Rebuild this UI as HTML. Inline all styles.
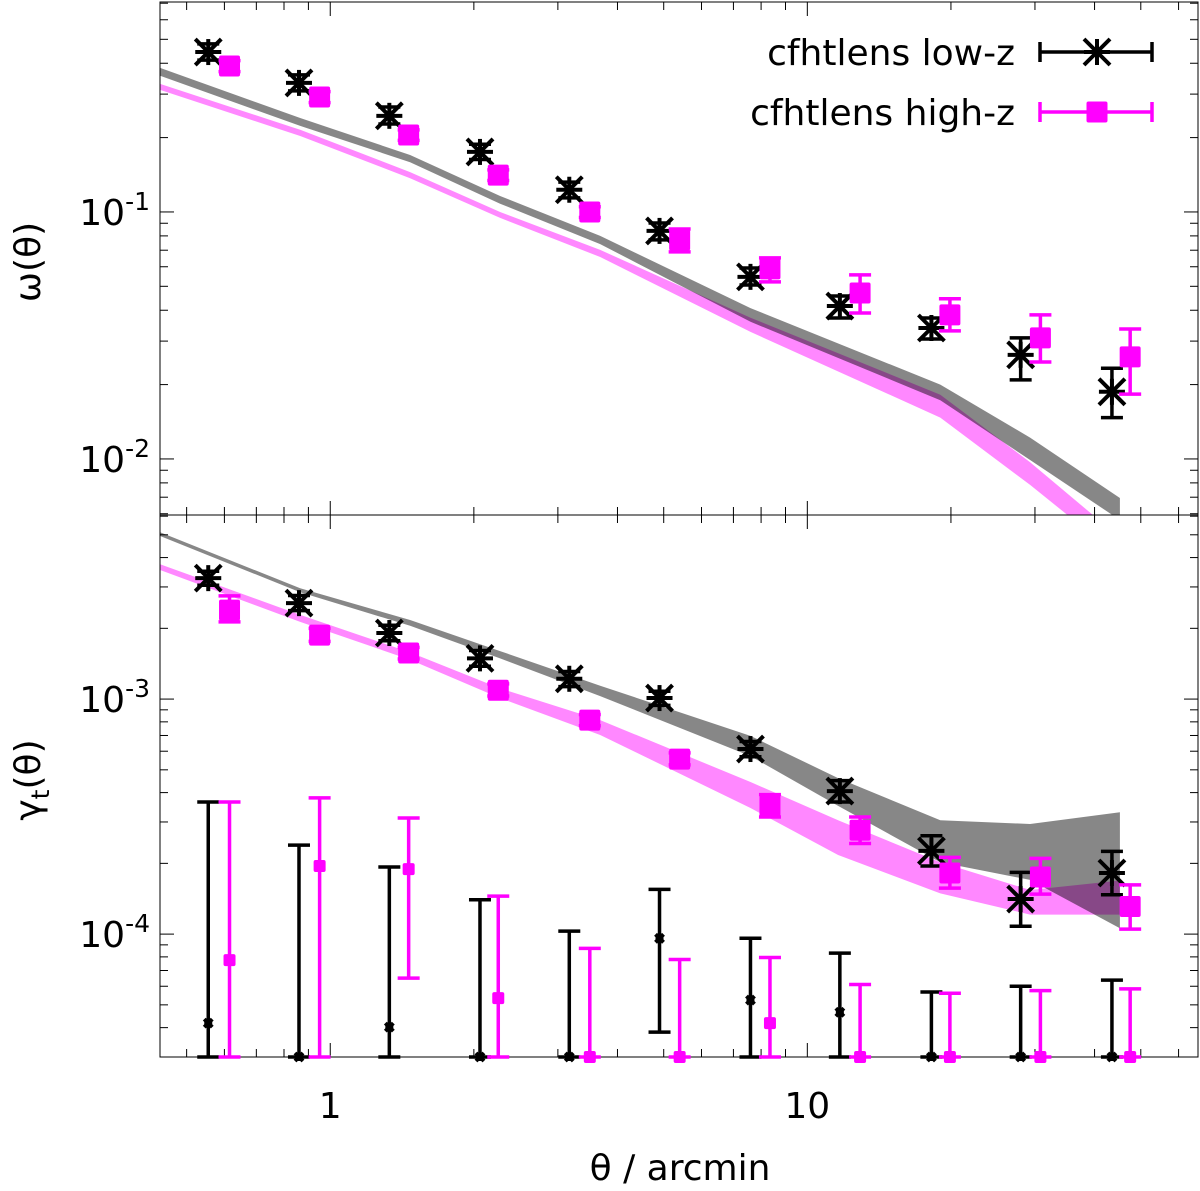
<!DOCTYPE html>
<html><head><meta charset="utf-8"><style>
html,body{margin:0;padding:0;background:#fff}
svg{display:block}
text{font-family:"DejaVu Sans","Liberation Sans",sans-serif;fill:#000}
</style></head><body>
<svg id="chart" width="1200" height="1191" viewBox="0 0 1200 1191" xmlns="http://www.w3.org/2000/svg">
<defs>
<clipPath id="clipTop"><rect x="160" y="2" width="1038" height="513"/></clipPath>
<clipPath id="clipBot"><rect x="160" y="515" width="1038" height="542"/></clipPath>
</defs>
<g id="layer"></g>
</svg>
<script>
// ---- data ----
const thetaBlack = [0.555,0.86,1.33,2.06,3.17,4.9,7.6,11.7,18.2,28.0,43.5];
const thetaMag   = [0.615,0.95,1.46,2.25,3.5,5.4,8.35,12.9,19.9,30.8,47.5];
// top panel omega
const wBlack   = [0.444,0.333,0.245,0.175,0.123,0.0838,0.0546,0.0416,0.0339,0.0264,0.0187];
const wBlackLo = [0.412,0.309,0.227,0.163,0.114,0.0771,0.0506,0.0372,0.0306,0.0209,0.0147];
const wBlackHi = [0.479,0.359,0.266,0.188,0.132,0.0902,0.0593,0.0457,0.0372,0.0309,0.0233];
const wMag   = [0.390,0.292,0.205,0.141,0.100,0.077,0.0588,0.047,0.0383,0.0309,0.0259];
const wMagLo = [0.370,0.277,0.195,0.134,0.095,0.0689,0.0521,0.039,0.033,0.0247,0.0183];
const wMagHi = [0.410,0.307,0.215,0.148,0.105,0.0853,0.0652,0.0556,0.0445,0.0383,0.0336];
// theory bands
const thTheta = [0.44,0.865,1.47,2.27,3.68,7.6,19.0,29.3,45.2];
const wThBlackHi = [0.383,0.240,0.170,0.116,0.080,0.0408,0.020,0.0122,0.00695];
const wThBlackLo = [0.356,0.223,0.159,0.108,0.0741,0.0359,0.0173,0.0099,0.00566];
const wThMagHi = [0.330,0.215,0.145,0.100,0.0702,0.0373,0.0182,0.0097,0.0048];
const wThMagLo = [0.312,0.203,0.137,0.0946,0.0657,0.0327,0.0147,0.00785,0.0040];
const thThetaB = [0.44,0.865,1.47,2.27,3.68,7.6,11.6,19.0,29.3,45.2];
const gThBlackHi = [0.00513,0.00296,0.00217,0.0016,0.00114,0.000697,0.000461,0.000305,0.000294,0.00033];
const gThBlackLo = [0.00494,0.00285,0.00205,0.00149,0.00103,0.000572,0.000351,0.000202,0.00017,0.000106];
const gThMagHi = [0.00375,0.00228,0.00158,0.00111,0.000814,0.000444,0.000305,0.000202,0.000154,0.000169];
const gThMagLo = [0.00354,0.00213,0.00147,0.00101,0.000703,0.000344,0.000217,0.000149,0.000121,0.000121];
// bottom panel gamma_t
const gBlack   = [0.00327,0.00256,0.00191,0.00149,0.00122,0.00101,0.000613,0.000406,0.000226,0.000141,0.000182];
const gBlackLo = [0.00305,0.00238,0.00177,0.00138,0.00113,0.00094,0.000568,0.000365,0.000195,0.000108,0.000147];
const gBlackHi = [0.00350,0.00276,0.00206,0.00161,0.00131,0.00108,0.000660,0.000450,0.000262,0.000183,0.000225];
const gMag   = [0.00239,0.00187,0.00157,0.00109,0.000814,0.000555,0.000351,0.000277,0.000182,0.000175,0.000131];
const gMagLo = [0.00213,0.00176,0.00148,0.00103,0.000770,0.000525,0.000315,0.000243,0.000157,0.000148,0.000105];
const gMagHi = [0.00275,0.00200,0.00166,0.00116,0.000860,0.000590,0.000392,0.000315,0.000212,0.000210,0.000162];
// cross (noise) signal
const xBlack   = [4.18e-5,3.0e-5,4.02e-5,3.0e-5,3.0e-5,9.6e-5,5.24e-5,4.65e-5,3.0e-5,3.0e-5,3.0e-5];
const xBlackLo = [3.0e-5,3.0e-5,3.0e-5,3.0e-5,3.0e-5,3.83e-5,3.0e-5,3.0e-5,3.0e-5,3.0e-5,3.0e-5];
const xBlackHi = [3.65e-4,2.39e-4,1.93e-4,1.40e-4,1.03e-4,1.55e-4,9.6e-5,8.3e-5,5.67e-5,6.0e-5,6.37e-5];
const xMag   = [7.75e-5,1.95e-4,1.89e-4,5.34e-5,3.0e-5,3.0e-5,4.18e-5,3.0e-5,3.0e-5,3.0e-5,3.0e-5];
const xMagLo = [3.0e-5,3.0e-5,6.5e-5,3.0e-5,3.0e-5,3.0e-5,3.0e-5,3.0e-5,3.0e-5,3.0e-5,3.0e-5];
const xMagHi = [3.65e-4,3.8e-4,3.12e-4,1.45e-4,8.7e-5,7.8e-5,7.95e-5,6.1e-5,5.6e-5,5.75e-5,5.85e-5];
const xTickLabels = ["1","10"];

// ---- axes ----
const L=160,R=1198,T1=2,B1=515,T2=515,B2=1057;
const xMin=0.4397,xMax=65.9;
function X(v){return L+(Math.log10(v)-Math.log10(xMin))/(Math.log10(xMax)-Math.log10(xMin))*(R-L);}
const y1Min=0.00593,y1Max=0.708;
function Y1(v){return B1-(Math.log10(v)-Math.log10(y1Min))/(Math.log10(y1Max)-Math.log10(y1Min))*(B1-T1);}
const y2Min=3.0e-5,y2Max=0.00607;
function Y2(v){return B2-(Math.log10(v)-Math.log10(y2Min))/(Math.log10(y2Max)-Math.log10(y2Min))*(B2-T2);}

const NS='http://www.w3.org/2000/svg';
const layer=document.getElementById('layer');
function mk(tag,attrs,parent){const e=document.createElementNS(NS,tag);for(const k in attrs)e.setAttribute(k,attrs[k]);(parent||layer).appendChild(e);return e;}
const FS=36,FSS=25;

// bands
function band(th,hi,lo,Y,fill,clip,name){
  let d='';
  th.forEach((t,i)=>{d+=(i?'L':'M')+X(t).toFixed(1)+','+Y(hi[i]).toFixed(1);});
  for(let i=th.length-1;i>=0;i--)d+='L'+X(th[i]).toFixed(1)+','+Y(lo[i]).toFixed(1);
  const p=mk('path',{d:d+'Z',fill:fill,'clip-path':'url(#'+clip+')'});
  
  
}
band(thTheta,wThMagHi,wThMagLo,Y1,'#ff88ff','clipTop','omega-theory-band-high-z');
band(thTheta,wThBlackHi,wThBlackLo,Y1,'rgba(0,0,0,0.47)','clipTop','omega-theory-band-low-z');
band(thThetaB,gThMagHi,gThMagLo,Y2,'#ff88ff','clipBot','gamma-theory-band-high-z');
band(thThetaB,gThBlackHi,gThBlackLo,Y2,'rgba(0,0,0,0.47)','clipBot','gamma-theory-band-low-z');

// frames & ticks
function frame(T,B,name){
  const r=mk('rect',{x:L,y:T,width:R-L,height:B-T,fill:'none',stroke:'#000','stroke-width':1});
  
  
}
frame(T1,B1,'top-panel-frame');frame(T2,B2,'bottom-panel-frame');
const g=mk('g',{stroke:'#000','stroke-width':1});


for(let dec=-1;dec<=1;dec++){for(let m=1;m<=9;m++){const v=m*Math.pow(10,dec);if(v<xMin||v>xMax)continue;const x=X(v),len=(m===1)?14:8;
  [[T1,1],[B1,-1],[T2,1],[B2,-1]].forEach(([y,s])=>mk('line',{x1:x,x2:x,y1:y,y2:y+s*len},g));}}
function yt(Y,lo,hi){for(let dec=-6;dec<=0;dec++){for(let m=1;m<=9;m++){const v=m*Math.pow(10,dec);if(v<lo||v>hi)continue;const y=Y(v),len=(m===1)?14:8;
  mk('line',{x1:L,x2:L+len,y1:y,y2:y},g);mk('line',{x1:R,x2:R-len,y1:y,y2:y},g);}}}
yt(Y1,y1Min,y1Max);yt(Y2,y2Min,y2Max);

// tick labels
function lbl(x,y,txt,sup,name,anchor){
  const t=mk('text',{x:x,y:y,'font-size':FS,'text-anchor':anchor||'middle'});
  
  
  t.textContent=txt;
  if(sup){const s=mk('tspan',{dy:-15,'font-size':FSS},t);s.textContent=sup;}
  return t;
}
lbl(X(1),1118,xTickLabels[0],null,'x-tick-1');
lbl(X(10),1118,xTickLabels[1],null,'x-tick-10');
lbl(150,Y1(0.1)+13,'10','-1','y-tick-top-1e-1','end');
lbl(150,Y1(0.01)+13,'10','-2','y-tick-top-1e-2','end');
lbl(150,Y2(0.001)+13,'10','-3','y-tick-bottom-1e-3','end');
lbl(150,Y2(0.0001)+13,'10','-4','y-tick-bottom-1e-4','end');
lbl(680,1180,'θ / arcmin',null,'x-axis-title');
let ta=mk('text',{x:0,y:0,'font-size':FS,'text-anchor':'middle',transform:'translate(40,262) rotate(-90)'});


ta.textContent='ω(θ)';
let tb=mk('text',{x:0,y:0,'font-size':FS,'text-anchor':'middle',transform:'translate(40,780) rotate(-90)'});


tb.textContent='γ';
const sb=mk('tspan',{dy:9,'font-size':FSS},tb);sb.textContent='t';
const sc=mk('tspan',{dy:-9},tb);sc.textContent='(θ)';

// markers
function errbar(x,y1,y2,color,cap,name){
  const gg=mk('g',{stroke:color,'stroke-width':3.5,fill:'none'});
  
  
  mk('line',{x1:x,x2:x,y1:y1,y2:y2},gg);
  mk('line',{x1:x-cap,x2:x+cap,y1:y1,y2:y1},gg);
  mk('line',{x1:x-cap,x2:x+cap,y1:y2,y2:y2},gg);
}
function star(x,y,s,name){
  const gg=mk('g',{stroke:'#000','stroke-width':4});
  
  
  mk('line',{x1:x-s,x2:x+s,y1:y,y2:y},gg);
  mk('line',{x1:x-s,x2:x+s,y1:y-s,y2:y+s},gg);
  mk('line',{x1:x-s,x2:x+s,y1:y+s,y2:y-s},gg);
  mk('line',{x1:x,x2:x,y1:y-s,y2:y+s},gg);
}
function sq(x,y,s,name){
  const r=mk('rect',{x:x-s,y:y-s,width:2*s,height:2*s,fill:'#ff00ff',rx:2});
  
  
}
function clampY2(v){return Math.min(B2,Y2(v));}
thetaBlack.forEach((t,i)=>{const x=X(t);
  errbar(x,Y1(wBlackHi[i]),Y1(wBlackLo[i]),'#000',11,'omega-low-z-errbar');
  star(x,Y1(wBlack[i]),13,'omega-low-z-point');
  errbar(x,Y2(gBlackHi[i]),Y2(gBlackLo[i]),'#000',11,'gamma-low-z-errbar');
  star(x,Y2(gBlack[i]),13,'gamma-low-z-point');
  errbar(x,Y2(xBlackHi[i]),clampY2(xBlackLo[i]),'#000',11,'cross-low-z-errbar');
  star(x,clampY2(xBlack[i]),4,'cross-low-z-point');
});
thetaMag.forEach((t,i)=>{const x=X(t);
  errbar(x,Y1(wMagHi[i]),Y1(wMagLo[i]),'#ff00ff',11,'omega-high-z-errbar');
  sq(x,Y1(wMag[i]),10.5,'omega-high-z-point');
  errbar(x,Y2(gMagHi[i]),Y2(gMagLo[i]),'#ff00ff',11,'gamma-high-z-errbar');
  sq(x,Y2(gMag[i]),10.5,'gamma-high-z-point');
  errbar(x,Y2(xMagHi[i]),clampY2(xMagLo[i]),'#ff00ff',11,'cross-high-z-errbar');
  sq(x,clampY2(xMag[i]),6,'cross-high-z-point');
});

// legend
const lg=mk('g',{});


const l1=mk('text',{x:1015,y:65,'font-size':FS,'text-anchor':'end'},lg);


l1.textContent='cfhtlens low-z';
const l2=mk('text',{x:1015,y:125,'font-size':FS,'text-anchor':'end'},lg);


l2.textContent='cfhtlens high-z';
function legLine(y,color,name){
  const gg=mk('g',{stroke:color,'stroke-width':3.5},lg);
  
  
  mk('line',{x1:1040,x2:1152,y1:y,y2:y},gg);
  mk('line',{x1:1040,x2:1040,y1:y-10,y2:y+10},gg);
  mk('line',{x1:1152,x2:1152,y1:y-10,y2:y+10},gg);
}
legLine(52,'#000','legend-line-low-z');star(1097,52,13,'legend-marker-low-z');
legLine(112,'#ff00ff','legend-line-high-z');sq(1097,112,10.5,'legend-marker-high-z');
</script>
</body></html>
